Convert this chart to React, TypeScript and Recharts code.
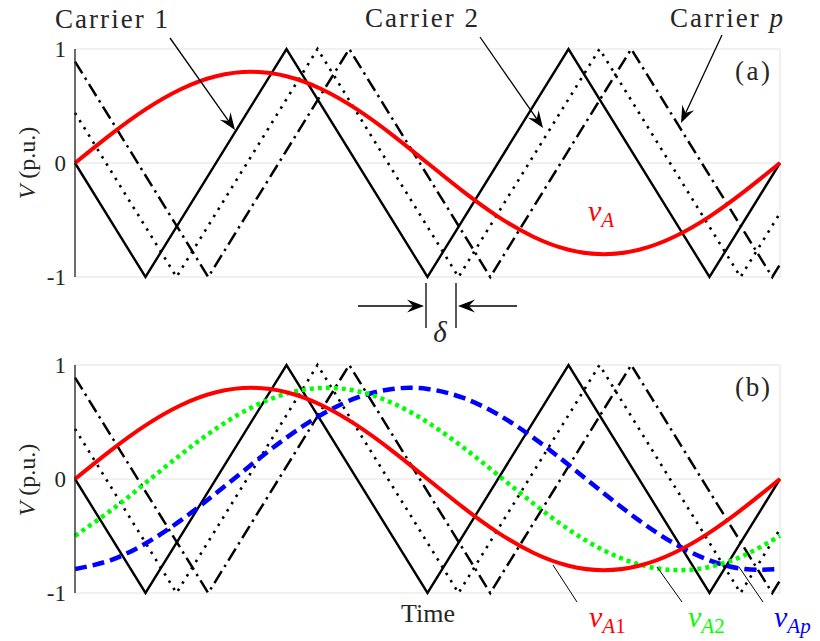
import { CartesianGrid, Line, LineChart, XAxis, YAxis } from 'recharts'
import type { ReactNode } from 'react'

// normalised time base for the sinusoidal references
const sineT = [0, 0.05, 0.1, 0.15, 0.2, 0.25, 0.3, 0.35, 0.4, 0.45, 0.5, 0.55, 0.6, 0.65, 0.7, 0.75, 0.8, 0.85, 0.9, 0.95, 1]
const vA1 = [0, 0.247, 0.47, 0.647, 0.761, 0.8, 0.761, 0.647, 0.47, 0.247, 0, -0.247, -0.47, -0.647, -0.761, -0.8, -0.761, -0.647, -0.47, -0.247, 0]
const vA2 = [-0.498, -0.28, -0.035, 0.214, 0.442, 0.626, 0.749, 0.799, 0.771, 0.667, 0.498, 0.28, 0.035, -0.214, -0.442, -0.626, -0.749, -0.799, -0.771, -0.667, -0.498]
const vAp = [-0.79, -0.713, -0.566, -0.363, -0.125, 0.125, 0.363, 0.566, 0.713, 0.79, 0.79, 0.713, 0.566, 0.363, 0.125, -0.125, -0.363, -0.566, -0.713, -0.79, -0.79]

// triangular carriers, corner points only
const carrier1T = [0, 0.1, 0.3, 0.5, 0.7, 0.9, 1]
const carrier1V = [0, -1, 1, -1, 1, -1, 0]
const carrier2T = [0, 0.144, 0.344, 0.544, 0.744, 0.944, 1]
const carrier2V = [0.44, -1, 1, -1, 1, -1, -0.44]
const carrierPT = [0, 0.189, 0.389, 0.589, 0.789, 0.989, 1]
const carrierPV = [0.89, -1, 1, -1, 1, -1, -0.89]

const xTicks = [0, 0.25, 0.5, 0.75, 1]
const yTicks = [-1, 0, 1]
const yTickLabels = ['-1', '0', '1']

const FONT = 'Liberation Serif, serif'
const FRAME = '#262626'
const INK = '#262626'

const pts = (t: number[], v: number[]) => t.map((x, i) => ({ t: x, v: v[i] }))

function Panel({ top, children }: { top: number; children: ReactNode }) {
  return (
    <div style={{ position: 'absolute', left: 0, top }}>
      <LineChart width={820} height={300} margin={{ top: 49, right: 40, bottom: 23, left: 0 }}>
        <CartesianGrid xAxisId="b" yAxisId="l" stroke="#e2e2e2" strokeWidth={1} />
        <XAxis xAxisId="b" type="number" dataKey="t" domain={[0, 1]} ticks={xTicks} tick={false}
          height={0} mirror tickSize={5} axisLine={{ stroke: FRAME, strokeWidth: 1.3 }} tickLine={{ stroke: FRAME }} />
        <XAxis xAxisId="t" orientation="top" type="number" dataKey="t" domain={[0, 1]} ticks={xTicks} tick={false}
          height={0} mirror tickSize={5} axisLine={{ stroke: FRAME, strokeWidth: 1.3 }} tickLine={{ stroke: FRAME }} />
        <YAxis yAxisId="l" type="number" domain={[-1, 1]} ticks={yTicks} width={75} tickLine={false}
          tickSize={0} tickMargin={9} axisLine={{ stroke: FRAME, strokeWidth: 1.3 }}
          tick={{ fill: INK, fontSize: 23, fontFamily: FONT }}
          tickFormatter={(v: number) => yTickLabels[yTicks.indexOf(v)]} />
        <YAxis yAxisId="r" orientation="right" type="number" domain={[-1, 1]} ticks={yTicks} width={0}
          mirror tick={false} tickSize={5} axisLine={{ stroke: FRAME, strokeWidth: 1.3 }} tickLine={{ stroke: FRAME }} />
        {children}
      </LineChart>
    </div>
  )
}

function carriers() {
  return [
    <Line key="c1" xAxisId="b" yAxisId="l" data={pts(carrier1T, carrier1V)} dataKey="v" type="linear"
      stroke="#000" strokeWidth={2.4} dot={false} isAnimationActive={false} />,
    <Line key="c2" xAxisId="b" yAxisId="l" data={pts(carrier2T, carrier2V)} dataKey="v" type="linear"
      stroke="#000" strokeWidth={2.6} strokeDasharray="2.5 6" dot={false} isAnimationActive={false} />,
    <Line key="cp" xAxisId="b" yAxisId="l" data={pts(carrierPT, carrierPV)} dataKey="v" type="linear"
      stroke="#000" strokeWidth={2.5} strokeDasharray="14 5 2.5 5" dot={false} isAnimationActive={false} />,
  ]
}

function Arrow({ x1, y1, x2, y2 }: { x1: number; y1: number; x2: number; y2: number }) {
  const a = Math.atan2(y2 - y1, x2 - x1)
  const ux = Math.cos(a)
  const uy = Math.sin(a)
  const len = 17
  const half = 6.5
  const notch = 11
  const bx = x2 - ux * len
  const by = y2 - uy * len
  const nx = x2 - ux * notch
  const ny = y2 - uy * notch
  const d = `M${x2},${y2} L${bx - uy * half},${by + ux * half} L${nx},${ny} L${bx + uy * half},${by - ux * half} Z`
  return (
    <g>
      <line x1={x1} y1={y1} x2={nx} y2={ny} stroke="#000" strokeWidth={1.3} />
      <path d={d} fill="#000" />
    </g>
  )
}

// italic v with a subscript, as used for the reference labels
function VLabel({ x, y, color, subItalic, subPlain }: { x: number; y: number; color: string; subItalic: string; subPlain?: string }) {
  return (
    <text x={x} y={y} fill={color} fontFamily={FONT} fontSize={30}>
      <tspan fontStyle="italic">v</tspan>
      <tspan fontSize={21} dy={6} fontStyle="italic">{subItalic}</tspan>
      {subPlain ? <tspan fontSize={21}>{subPlain}</tspan> : null}
    </text>
  )
}

export default function App() {
  return (
    <div style={{ position: 'fixed', left: 0, top: 0, width: 820, height: 641, background: '#fff' }}>
      <Panel top={0}>
        {carriers()}
        <Line xAxisId="b" yAxisId="l" data={pts(sineT, vA1)} dataKey="v" type="natural"
          stroke="#ff0000" strokeWidth={4} dot={false} isAnimationActive={false} />
      </Panel>
      <Panel top={316}>
        {carriers()}
        <Line xAxisId="b" yAxisId="l" data={pts(sineT, vAp)} dataKey="v" type="natural"
          stroke="#0000ff" strokeWidth={4.5} strokeDasharray="12 6" dot={false} isAnimationActive={false} />
        <Line xAxisId="b" yAxisId="l" data={pts(sineT, vA2)} dataKey="v" type="natural"
          stroke="#00ff00" strokeWidth={4.5} strokeDasharray="4 4" dot={false} isAnimationActive={false} />
        <Line xAxisId="b" yAxisId="l" data={pts(sineT, vA1)} dataKey="v" type="natural"
          stroke="#ff0000" strokeWidth={4} dot={false} isAnimationActive={false} />
      </Panel>

      <svg width={820} height={641} style={{ position: 'absolute', left: 0, top: 0, pointerEvents: 'none' }}>
        {/* carrier callouts */}
        <text x={55} y={28} fontFamily={FONT} fontSize={27} fill={INK} textLength={113} lengthAdjust="spacing">Carrier 1</text>
        <text x={365} y={27} fontFamily={FONT} fontSize={27} fill={INK} textLength={113} lengthAdjust="spacing">Carrier 2</text>
        <text x={670} y={27} fontFamily={FONT} fontSize={27} fill={INK} textLength={113} lengthAdjust="spacing">
          Carrier <tspan fontStyle="italic">p</tspan>
        </text>
        <Arrow x1={170} y1={38} x2={235} y2={130} />
        <Arrow x1={480} y1={37} x2={543} y2={128} />
        <Arrow x1={722} y1={35} x2={681} y2={123} />

        {/* panel tags */}
        <text x={735} y={80} fontFamily={FONT} fontSize={27} fill={INK} textLength={35}>(a)</text>
        <text x={735} y={396} fontFamily={FONT} fontSize={27} fill={INK} textLength={35}>(b)</text>

        <VLabel x={588} y={221} color="#ff0000" subItalic="A" />

        {/* phase shift between adjacent carriers */}
        <line x1={426} y1={283} x2={426} y2={328} stroke="#000" strokeWidth={1.3} />
        <line x1={456} y1={283} x2={456} y2={328} stroke="#000" strokeWidth={1.3} />
        <Arrow x1={358} y1={306} x2={424} y2={306} />
        <Arrow x1={517} y1={306} x2={458} y2={306} />
        <text x={440} y={342} fontFamily={FONT} fontSize={29} fontStyle="italic" fill={INK} textAnchor="middle">δ</text>

        {/* axis titles */}
        <text transform="translate(35,163) rotate(-90)" fontFamily={FONT} fontSize={24} fill={INK} textAnchor="middle">
          <tspan fontStyle="italic">V</tspan>{'\u00a0(p.u.)'}
        </text>
        <text transform="translate(35,480) rotate(-90)" fontFamily={FONT} fontSize={24} fill={INK} textAnchor="middle">
          <tspan fontStyle="italic">V</tspan>{'\u00a0(p.u.)'}
        </text>
        <text x={428} y={622} fontFamily={FONT} fontSize={26} fill={INK} textAnchor="middle">Time</text>

        {/* series callouts */}
        <line x1={577} y1={602} x2={553} y2={565} stroke="#000" strokeWidth={1} />
        <line x1={682} y1={602} x2={657} y2={567} stroke="#000" strokeWidth={1} />
        <line x1={763} y1={602} x2={739} y2={567} stroke="#000" strokeWidth={1} />
        <VLabel x={589} y={627} color="#ff0000" subItalic="A" subPlain="1" />
        <VLabel x={688} y={627} color="#00ff00" subItalic="A" subPlain="2" />
        <VLabel x={774} y={627} color="#0000ff" subItalic="Ap" />
      </svg>
    </div>
  )
}
